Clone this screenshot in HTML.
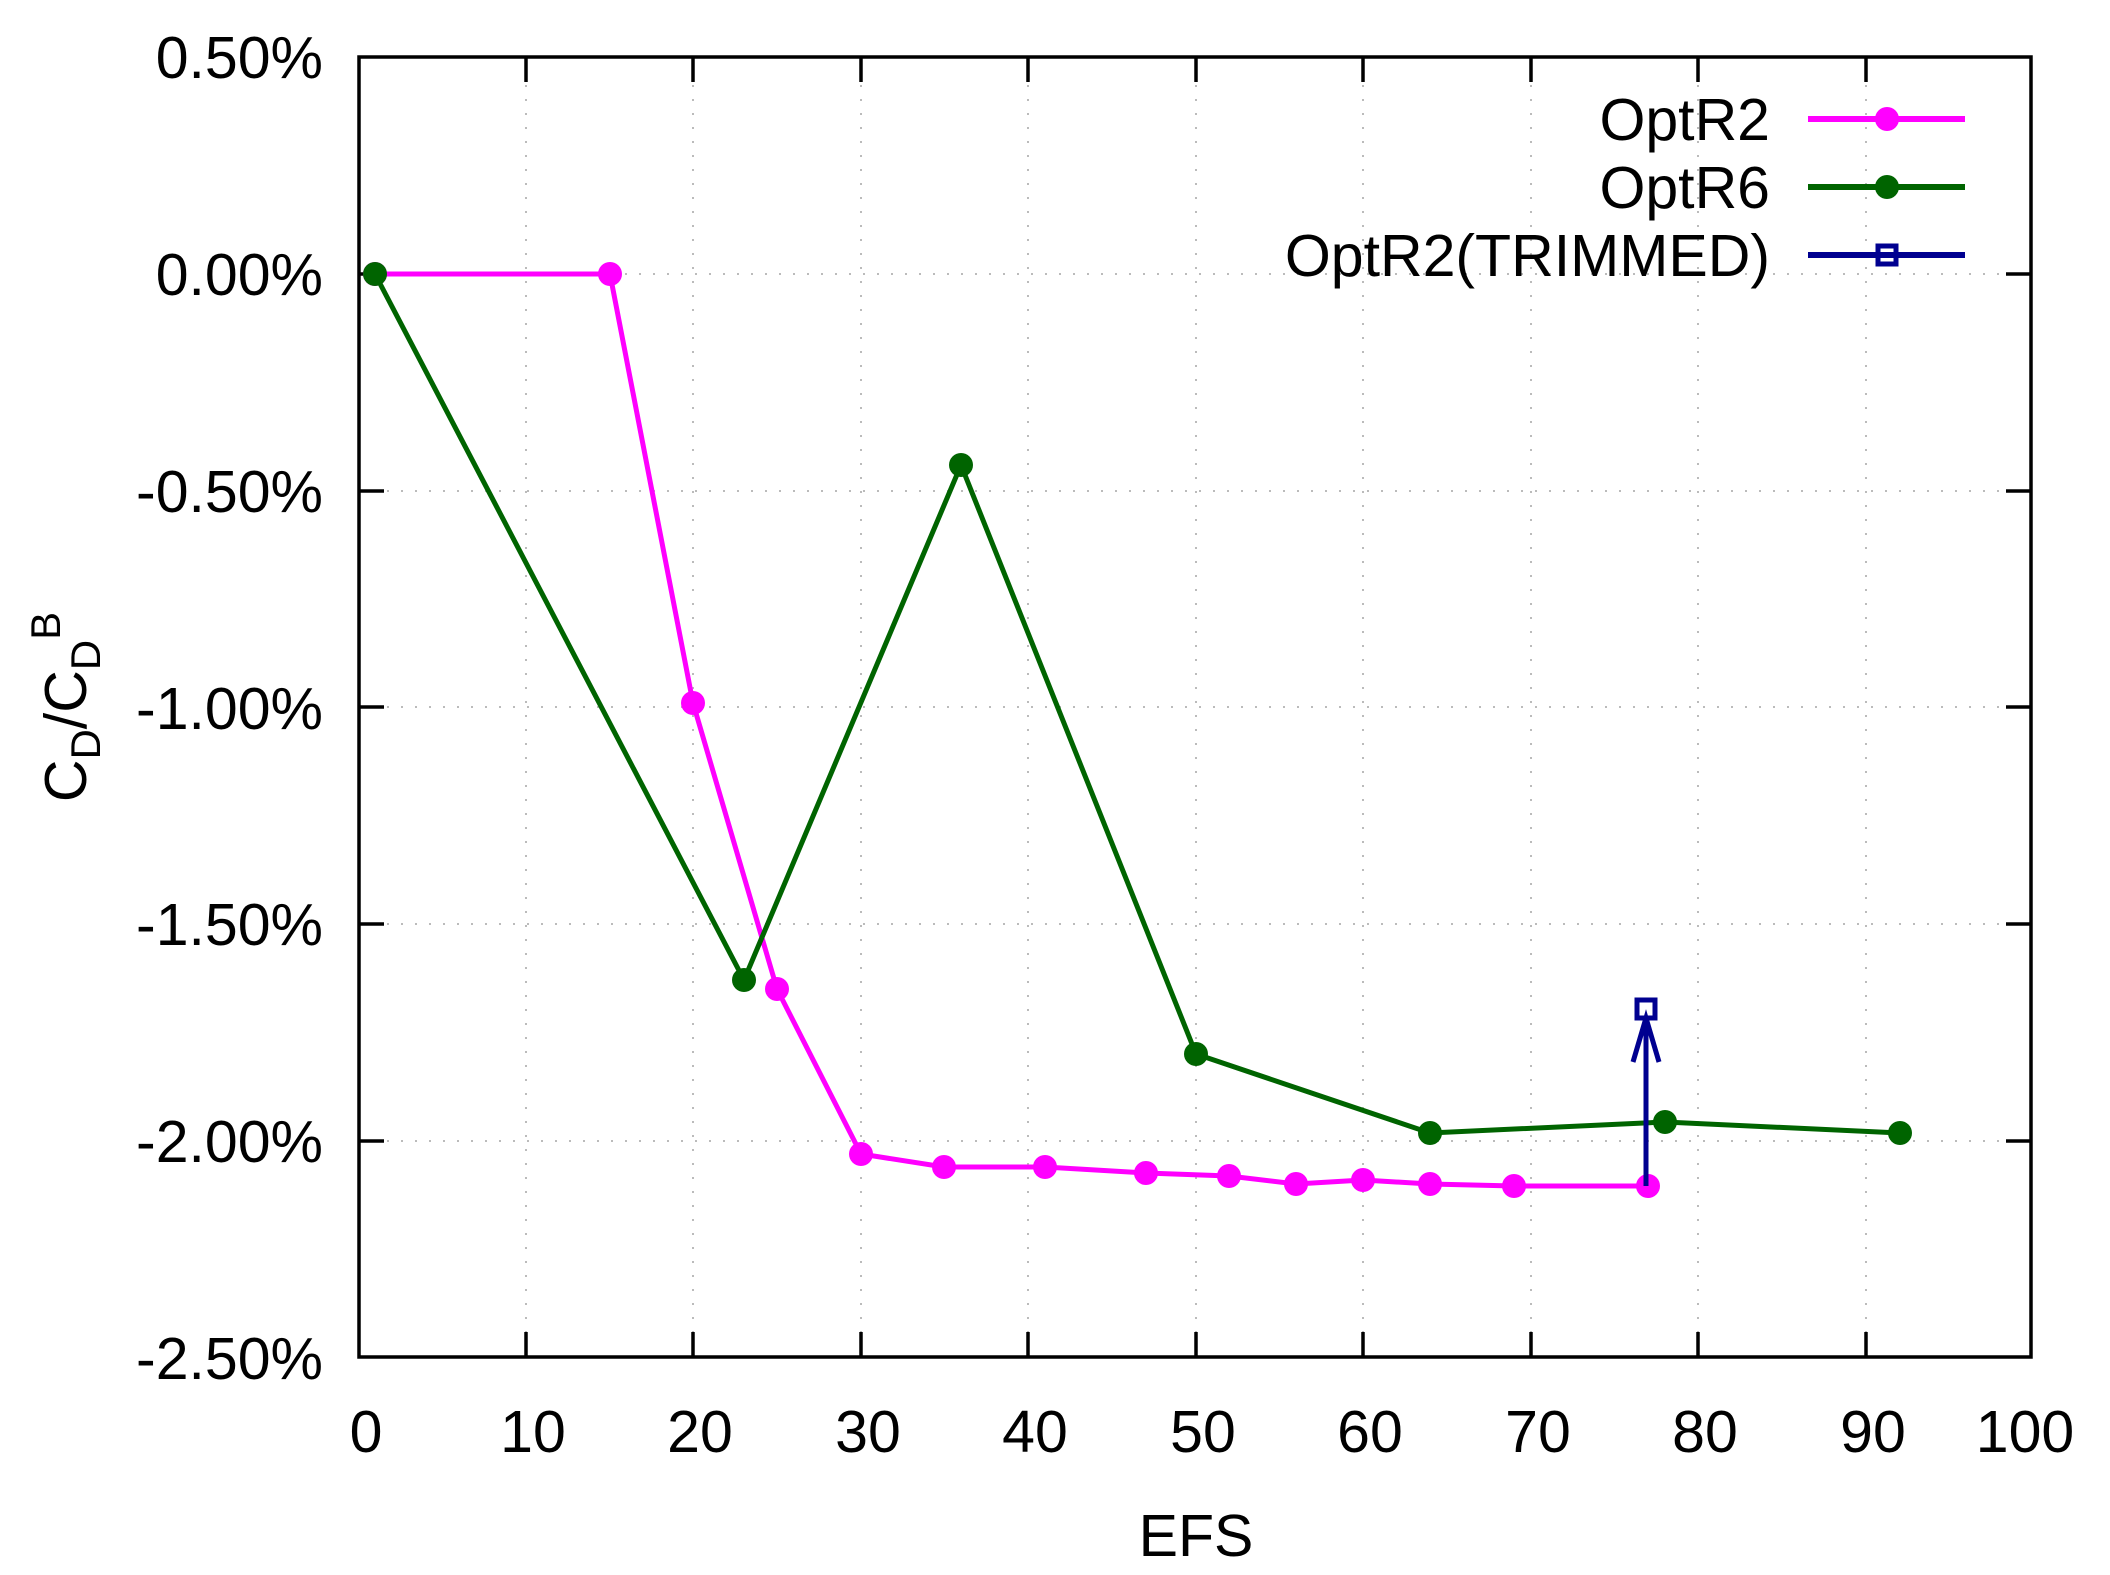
<!DOCTYPE html>
<html><head><style>body{margin:0;background:#fff}svg{display:block}</style></head>
<body>
<svg width="2110" height="1575" xmlns="http://www.w3.org/2000/svg" font-family="Liberation Sans, sans-serif">
<rect width="2110" height="1575" fill="#fff"/>
<g stroke="#bbb" stroke-width="2" stroke-dasharray="2,12">
<line x1="526" y1="57" x2="526" y2="1357"/><line x1="693" y1="57" x2="693" y2="1357"/><line x1="861" y1="57" x2="861" y2="1357"/><line x1="1028" y1="57" x2="1028" y2="1357"/><line x1="1196" y1="57" x2="1196" y2="1357"/><line x1="1363" y1="57" x2="1363" y2="1357"/><line x1="1531" y1="57" x2="1531" y2="1357"/><line x1="1698" y1="57" x2="1698" y2="1357"/><line x1="1866" y1="57" x2="1866" y2="1357"/>
<line x1="359" y1="274" x2="2031" y2="274"/><line x1="359" y1="491" x2="2031" y2="491"/><line x1="359" y1="707" x2="2031" y2="707"/><line x1="359" y1="924" x2="2031" y2="924"/><line x1="359" y1="1141" x2="2031" y2="1141"/>
</g>
<g stroke="#000" stroke-width="3.5">
<path d="M526 1357v-25M693 1357v-25M861 1357v-25M1028 1357v-25M1196 1357v-25M1363 1357v-25M1531 1357v-25M1698 1357v-25M1866 1357v-25"/>
<path d="M526 57v25M693 57v25M861 57v25M1028 57v25M1196 57v25M1363 57v25M1531 57v25M1698 57v25M1866 57v25"/>
<path d="M359 274h25M359 491h25M359 707h25M359 924h25M359 1141h25"/>
<path d="M2031 274h-25M2031 491h-25M2031 707h-25M2031 924h-25M2031 1141h-25"/>
<rect x="359" y="57" width="1672" height="1300" fill="none"/>
</g>
<g font-size="59" text-anchor="end" fill="#000">
<text x="323" y="78">0.50%</text><text x="323" y="295">0.00%</text><text x="323" y="512">-0.50%</text><text x="323" y="729">-1.00%</text><text x="323" y="945">-1.50%</text><text x="323" y="1162">-2.00%</text><text x="323" y="1379">-2.50%</text>
</g>
<g font-size="59" text-anchor="middle" fill="#000">
<text x="366" y="1452">0</text><text x="533" y="1452">10</text><text x="700" y="1452">20</text><text x="868" y="1452">30</text><text x="1035" y="1452">40</text><text x="1203" y="1452">50</text><text x="1370" y="1452">60</text><text x="1538" y="1452">70</text><text x="1705" y="1452">80</text><text x="1873" y="1452">90</text><text x="2025" y="1452">100</text>
<text x="1196" y="1556">EFS</text>
</g>
<text transform="translate(86,707) rotate(-90)" font-size="59" text-anchor="middle">C<tspan font-size="42" dy="14">D</tspan><tspan dy="-14">/C</tspan><tspan font-size="42" dy="14">D</tspan><tspan font-size="42" dy="-40">B</tspan></text>
<polyline fill="none" stroke="#ff00ff" stroke-width="5" points="375,274 610,274 693,703 777,989 861,1154 944,1167 1045,1167 1146,1173 1229,1176 1296,1184 1363,1180 1430,1184 1514,1186 1648,1186"/>
<g fill="#ff00ff">
<circle cx="375" cy="274" r="12"/><circle cx="610" cy="274" r="12"/><circle cx="693" cy="703" r="12"/><circle cx="777" cy="989" r="12"/><circle cx="861" cy="1154" r="12"/><circle cx="944" cy="1167" r="12"/><circle cx="1045" cy="1167" r="12"/><circle cx="1146" cy="1173" r="12"/><circle cx="1229" cy="1176" r="12"/><circle cx="1296" cy="1184" r="12"/><circle cx="1363" cy="1180" r="12"/><circle cx="1430" cy="1184" r="12"/><circle cx="1514" cy="1186" r="12"/><circle cx="1648" cy="1186" r="12"/>
</g>
<polyline fill="none" stroke="#006400" stroke-width="5" points="375,274 744,980 961,465 1196,1054 1430,1133 1665,1122 1900,1133"/>
<g fill="#006400">
<circle cx="375" cy="274" r="12"/><circle cx="744" cy="980" r="12"/><circle cx="961" cy="465" r="12"/><circle cx="1196" cy="1054" r="12"/><circle cx="1430" cy="1133" r="12"/><circle cx="1665" cy="1122" r="12"/><circle cx="1900" cy="1133" r="12"/>
</g>
<g stroke="#000090" stroke-width="5" fill="none">
<line x1="1646" y1="1186" x2="1646" y2="1016"/>
<polyline points="1633,1062 1646,1018 1659,1062"/>
<rect x="1637" y="1000" width="18" height="18"/>
</g>
<g font-size="59" text-anchor="end" fill="#000">
<text x="1770" y="140">OptR2</text><text x="1770" y="208">OptR6</text><text x="1770" y="276">OptR2(TRIMMED)</text>
</g>
<line x1="1808" y1="119" x2="1965" y2="119" stroke="#ff00ff" stroke-width="6"/><circle cx="1887" cy="119" r="12" fill="#ff00ff"/>
<line x1="1808" y1="187" x2="1965" y2="187" stroke="#006400" stroke-width="6"/><circle cx="1887" cy="187" r="12" fill="#006400"/>
<line x1="1808" y1="255" x2="1965" y2="255" stroke="#000090" stroke-width="6"/><rect x="1878" y="246" width="18" height="18" fill="none" stroke="#000090" stroke-width="5"/>
</svg>
</body></html>
